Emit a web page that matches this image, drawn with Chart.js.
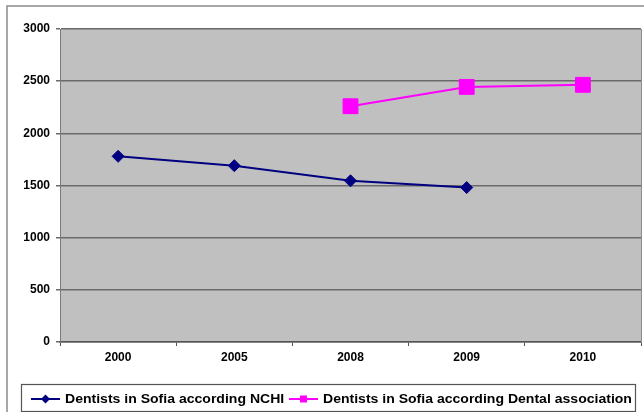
<!DOCTYPE html>
<html>
<head>
<meta charset="utf-8">
<script src="https://cdn.jsdelivr.net/npm/chart.js@4/dist/chart.umd.min.js"></script>
<style>
  html, body { margin: 0; padding: 0; background: #fff; }
  #wrap { width: 644px; height: 412px; position: relative; }
</style>
</head>
<body>
<div id="wrap"><canvas id="c" width="644" height="412"></canvas></div>
<script>
// Years on the category axis
const years = ['2000', '2005', '2008', '2009', '2010'];
// Number of dentists in Sofia, by source
const nchiValues = [1780, 1690, 1545, 1480, null];
const dentalAssocValues = [null, null, 2260, 2445, 2465];
// Value axis
const yMin = 0;
const yMax = 3000;
const yStep = 500;

const seriesNames = [
  'Dentists in Sofia according NCHI',
  'Dentists in Sofia according Dental association'
];

const FONT = '"Liberation Sans", Arial, sans-serif';

// Frame around the chart and grey plot background
const framePlugin = {
  id: 'frame',
  beforeDraw(chart) {
    const { ctx, chartArea: a } = chart;
    ctx.save();
    ctx.fillStyle = '#ffffff';
    ctx.fillRect(0, 0, chart.width, chart.height);
    ctx.strokeStyle = '#8a8a8a';
    ctx.lineWidth = 1.5;
    ctx.strokeRect(7, 6, chart.width + 20, chart.height + 20);
    ctx.fillStyle = '#c0c0c0';
    ctx.fillRect(a.left, a.top, a.right - a.left, a.bottom - a.top);
    ctx.restore();
  },
  afterDatasetsDraw(chart) {
    const { ctx, chartArea: a } = chart;
    ctx.save();
    ctx.strokeStyle = '#8c8c8c';
    ctx.lineWidth = 1;
    ctx.beginPath();
    ctx.moveTo(a.right + 0.5, a.top);
    ctx.lineTo(a.right + 0.5, a.bottom);
    ctx.stroke();
    ctx.restore();
  }
};

// Boxed legend with line-and-marker samples, drawn under the axis
const boxLegendPlugin = {
  id: 'boxLegend',
  afterDraw(chart) {
    const { ctx } = chart;
    const box = { x: 21, y: 384, w: 614, h: 27 };
    const cy = 399;
    const stretch = 1.17;
    ctx.save();
    ctx.fillStyle = '#ffffff';
    ctx.fillRect(box.x, box.y, box.w, box.h);
    ctx.strokeStyle = '#555555';
    ctx.lineWidth = 1.2;
    ctx.strokeRect(box.x + 0.5, box.y + 0.5, box.w, box.h);
    ctx.font = 'bold 12px ' + FONT;
    ctx.textBaseline = 'middle';
    const starts = [31, 289];
    chart.data.datasets.forEach((ds, i) => {
      const x0 = starts[i];
      ctx.strokeStyle = ds.borderColor;
      ctx.lineWidth = 2;
      ctx.beginPath();
      ctx.moveTo(x0, cy);
      ctx.lineTo(x0 + 29, cy);
      ctx.stroke();
      ctx.fillStyle = ds.pointBackgroundColor;
      ctx.beginPath();
      if (ds.pointStyle === 'rectRot') {
        const r = 4.5;
        ctx.moveTo(x0 + 14.5, cy - r);
        ctx.lineTo(x0 + 14.5 + r, cy);
        ctx.lineTo(x0 + 14.5, cy + r);
        ctx.lineTo(x0 + 14.5 - r, cy);
        ctx.closePath();
      } else {
        ctx.rect(x0 + 14.5 - 3.5, cy - 3.5, 7, 7);
      }
      ctx.fill();
      ctx.save();
      ctx.translate(x0 + 34, cy + 1);
      ctx.scale(stretch, 1);
      ctx.fillStyle = '#000';
      ctx.fillText(ds.label, 0, 0);
      ctx.restore();
    });
    ctx.restore();
  }
};

new Chart(document.getElementById('c'), {
  type: 'line',
  data: {
    labels: years,
    datasets: [
      {
        label: seriesNames[0],
        data: nchiValues,
        borderColor: '#000080',
        backgroundColor: '#000080',
        pointBackgroundColor: '#000080',
        pointBorderColor: '#000080',
        borderWidth: 2,
        pointStyle: 'rectRot',
        pointRadius: 6,
        pointBorderWidth: 1,
        spanGaps: false
      },
      {
        label: seriesNames[1],
        data: dentalAssocValues,
        borderColor: '#ff00ff',
        backgroundColor: '#ff00ff',
        pointBackgroundColor: '#ff00ff',
        pointBorderColor: '#ff00ff',
        borderWidth: 2,
        pointStyle: 'rect',
        pointRadius: 10.5,
        pointBorderWidth: 1,
        spanGaps: false
      }
    ]
  },
  options: {
    responsive: false,
    animation: false,
    devicePixelRatio: 1,
    layout: { autoPadding: false, padding: { left: 0, right: 3, top: 29, bottom: 40 } },
    plugins: {
      legend: { display: false },
      tooltip: { enabled: false }
    },
    scales: {
      x: {
        offset: true,
        grid: {
          offset: true,
          drawOnChartArea: false,
          drawTicks: true,
          tickLength: 4,
          color: '#555555',
          lineWidth: 1
        },
        border: { color: '#555555', width: 1.5 },
        ticks: {
          color: '#000',
          font: { family: FONT, size: 12, weight: 'bold' },
          padding: 4,
          maxRotation: 0
        },
        afterFit(scale) {
          scale.height = 30;
          scale.paddingLeft = 0;
          scale.paddingRight = 0;
        }
      },
      y: {
        min: yMin,
        max: yMax,
        ticks: {
          stepSize: yStep,
          color: '#000',
          font: { family: FONT, size: 12, weight: 'bold' },
          padding: 6,
          callback: (v) => String(v)
        },
        grid: {
          color: '#6a6a6a',
          lineWidth: 1.5,
          tickLength: 4,
          tickColor: '#6a6a6a'
        },
        border: { color: '#7a7a7a', width: 1 },
        afterFit(scale) {
          scale.width = 60;
          scale.paddingTop = 0;
          scale.paddingBottom = 0;
        }
      }
    }
  },
  plugins: [framePlugin, boxLegendPlugin]
});
</script>
</body>
</html>
